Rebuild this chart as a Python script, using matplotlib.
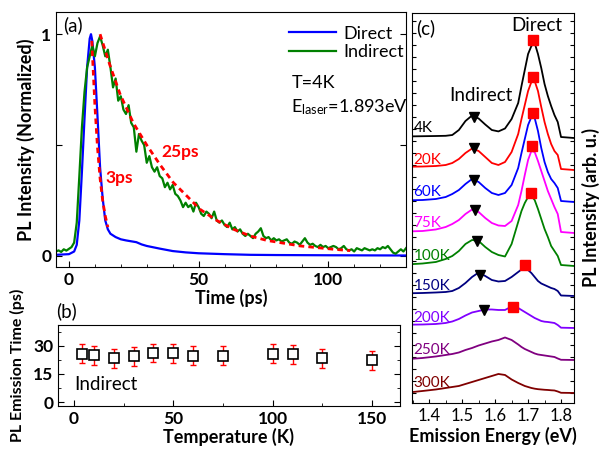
import matplotlib
matplotlib.use('Agg')
import matplotlib.pyplot as plt
from matplotlib.ticker import MultipleLocator
import numpy as np

plt.rcParams['font.family'] = ['Lato', 'DejaVu Sans']
plt.rcParams['mathtext.fontset'] = 'custom'
plt.rcParams['mathtext.rm'] = 'Lato'
plt.rcParams['mathtext.it'] = 'Lato:italic'

# ---------------- (a) time-resolved PL at 4K ----------------
# indirect (green) trace, sampled every 1 ps from -5 to 130 ps
time_ind = np.arange(-5, 131, 1)
pl_ind = [0.020, 0.025, 0.018, 0.030, 0.024, 0.032, 0.040, 0.060, 0.150, 0.360,
          0.580, 0.740, 0.850, 0.900, 0.950, 0.900, 0.960, 0.990, 0.950, 0.900,
          0.930, 0.850, 0.760, 0.800, 0.700, 0.720, 0.660, 0.640, 0.680, 0.600,
          0.580, 0.470, 0.550, 0.520, 0.500, 0.420, 0.450, 0.400, 0.380, 0.400,
          0.360, 0.350, 0.310, 0.330, 0.300, 0.320, 0.280, 0.270, 0.250, 0.220,
          0.240, 0.220, 0.230, 0.200, 0.240, 0.220, 0.190, 0.180, 0.200, 0.190,
          0.170, 0.200, 0.160, 0.150, 0.160, 0.140, 0.130, 0.150, 0.120, 0.130,
          0.110, 0.120, 0.100, 0.090, 0.100, 0.090, 0.080, 0.100, 0.110, 0.125,
          0.090, 0.080, 0.085, 0.070, 0.080, 0.070, 0.075, 0.065, 0.070, 0.075,
          0.060, 0.055, 0.065, 0.060, 0.050, 0.065, 0.080, 0.060, 0.050, 0.055,
          0.045, 0.040, 0.050, 0.040, 0.045, 0.035, 0.040, 0.045, 0.040, 0.030,
          0.035, 0.045, 0.030, 0.025, 0.030, 0.020, 0.035, 0.030, 0.025, 0.035,
          0.030, 0.025, 0.030, 0.025, 0.035, 0.030, 0.040, 0.035, 0.045, 0.030,
          0.015, 0.010, 0.020, 0.030, 0.020, 0.035]

# direct (blue) trace
time_dir = [-5, 0, 2, 3, 4, 5, 6, 7, 8, 8.5, 9, 10, 11, 12, 13, 14, 15, 16, 18, 20,
            22, 24, 26, 28, 30, 35, 40, 45, 50, 60, 70, 80, 100, 130]
pl_dir = [0.005, 0.008, 0.02, 0.05, 0.16, 0.38, 0.62, 0.85, 0.98, 1.0, 0.97, 0.85,
          0.63, 0.40, 0.26, 0.16, 0.12, 0.10, 0.085, 0.075, 0.07, 0.066, 0.062,
          0.052, 0.045, 0.033, 0.022, 0.016, 0.012, 0.008, 0.005, 0.004, 0.003, 0.002]

# fitted decays (red dashed)
fit3_t = [8.8, 10, 11, 12, 13, 14, 15]
fit3_y = [0.97, 0.68, 0.49, 0.35, 0.25, 0.18, 0.13]
fit25_t = [12, 15.8, 19.7, 24.8, 30, 35.2, 40.3, 45.5, 50.6, 57, 63.5, 69.9, 76.3,
           89.2, 102.1, 108.5]
fit25_y = [1.0, 0.86, 0.73, 0.60, 0.50, 0.41, 0.33, 0.27, 0.21, 0.16, 0.12, 0.09,
           0.07, 0.045, 0.03, 0.024]

# ---------------- (b) emission time vs temperature ----------------
temp_b = [4, 10, 20, 30, 40, 50, 60, 75, 100, 110, 125, 150]
tau_b = [25.7, 25.0, 23.4, 24.3, 26.1, 26.0, 24.6, 24.6, 25.7, 25.5, 23.4, 22.3]
tau_err = [5, 5, 5, 5, 5, 5, 5, 5, 5, 5, 5, 5]

# ---------------- (c) PL spectra ----------------
energy = [1.34, 1.38, 1.42, 1.45, 1.47, 1.49, 1.51, 1.53, 1.55, 1.57, 1.59, 1.61,
          1.63, 1.65, 1.67, 1.68, 1.69, 1.70, 1.71, 1.72, 1.73, 1.74, 1.75, 1.76,
          1.77, 1.78, 1.79, 1.80, 1.84]
spec_labels = ['4K', '20K', '60K', '75K', '100K', '150K', '200K', '250K', '300K']
spec_colors = ['black', 'red', 'blue', '#ff00ff', 'green', '#000080', '#8000ff',
               '#800080', '#800000']
spec_offsets = [255, 223, 191, 160, 127, 97, 65, 33, 0]
spectra = [
    [1.6, 1.8, 2.0, 2.2, 3.0, 8.0, 17.0, 22.5, 19.5, 13.5, 8.0, 6.6, 9.5, 19.0, 35.0,
     52.0, 68.0, 84.0, 92.0, 95.0, 84.0, 70.0, 54.0, 42.0, 32.0, 23.0, 16.0, 1.0, 0.0],
    [3.3, 3.5, 4.0, 5.0, 7.0, 11.0, 17.0, 21.5, 19.0, 13.0, 7.0, 5.0, 8.0, 18.0, 36.0,
     51.0, 65.0, 79.0, 88.0, 89.0, 79.0, 63.0, 48.0, 36.0, 26.0, 19.0, 15.0, 1.0, 0.0],
    [1.7, 2.0, 3.0, 5.0, 8.0, 12.0, 18.0, 23.0, 20.0, 14.0, 9.0, 7.0, 9.0, 17.0, 34.0,
     49.0, 63.0, 77.0, 85.0, 84.0, 71.0, 54.0, 40.0, 30.0, 23.0, 19.0, 14.0, 1.0, 0.0],
    [1.6, 2.0, 3.5, 6.0, 9.0, 13.0, 19.0, 23.5, 21.0, 15.0, 10.0, 7.5, 7.0, 12.0, 28.0,
     42.0, 58.0, 73.0, 82.0, 81.0, 72.0, 62.0, 52.0, 42.0, 34.0, 26.0, 19.0, 1.0, 0.0],
    [1.7, 2.5, 4.0, 7.0, 10.0, 15.0, 22.0, 26.0, 25.0, 19.0, 14.0, 11.0, 9.5, 22.0, 44.0,
     55.0, 63.0, 69.0, 70.0, 66.0, 57.0, 47.0, 37.0, 29.0, 20.0, 15.0, 10.0, 1.0, 0.0],
    [2.7, 3.0, 3.5, 4.0, 5.0, 8.0, 13.0, 19.0, 23.5, 20.0, 16.0, 14.5, 15.0, 19.0, 24.0,
     26.5, 27.5, 26.0, 23.0, 19.0, 15.0, 12.5, 11.0, 9.5, 8.0, 7.0, 5.0, 0.5, 0.0],
    [3.3, 3.5, 4.0, 5.0, 6.5, 9.0, 12.5, 15.5, 17.0, 18.5, 18.5, 18.0, 18.0, 21.5, 20.0,
     18.0, 16.0, 14.0, 12.0, 10.0, 8.5, 7.0, 6.3, 6.0, 5.5, 5.0, 3.0, 0.3, 0.0],
    [1.0, 2.0, 3.5, 5.0, 6.0, 7.5, 10.0, 12.0, 14.5, 16.5, 18.5, 20.0, 22.5, 20.0, 15.5,
     13.0, 11.0, 9.5, 8.0, 6.5, 5.5, 5.0, 4.5, 4.0, 3.5, 3.0, 1.5, 0.2, 0.0],
    [0.6, 2.0, 3.5, 5.0, 6.0, 7.0, 9.0, 11.0, 13.0, 15.0, 17.0, 19.0, 18.0, 13.5, 10.0,
     8.5, 7.0, 6.0, 5.0, 4.3, 3.8, 3.5, 3.2, 3.0, 2.7, 2.5, 1.5, 0.2, 0.0],
]
# peak markers for 4K..200K
ind_peak_E = [1.535, 1.535, 1.535, 1.54, 1.545, 1.555, 1.565]
ind_peak_h = [21, 21.7, 21.7, 23.3, 25, 21, 18.3]
dir_peak_E = [1.716, 1.715, 1.715, 1.712, 1.708, 1.69, 1.655]
dir_peak_h = [98, 93, 89, 87, 73, 31, 21]

fig = plt.figure(figsize=(6.06, 4.49), dpi=100)
ax_a = fig.add_axes([0.0924, 0.4053, 0.5776, 0.568])
ax_b = fig.add_axes([0.0957, 0.0958, 0.5643, 0.1804])
ax_c = fig.add_axes([0.680, 0.1025, 0.267, 0.8685])

bold = dict(fontsize=13, fontweight='bold')

# (a)
ax_a.plot(time_dir, pl_dir, color='blue', lw=1.6, label='Direct')
ax_a.plot(time_ind, pl_ind, color='green', lw=1.6, label='Indirect')
ax_a.plot(fit3_t, fit3_y, color='red', lw=2, ls=(0, (2, 1.5)))
ax_a.plot(fit25_t, fit25_y, color='red', lw=2, ls=(0, (2, 1.5)))
ax_a.set_xlim(-5, 130)
ax_a.set_ylim(-0.05, 1.1)
ax_a.set_yticks([0, 0.5, 1])
ax_a.set_yticklabels(['0', '', '1'])
ax_a.xaxis.set_major_locator(MultipleLocator(50))
ax_a.xaxis.set_minor_locator(MultipleLocator(10))
ax_a.set_xlabel('Time (ps)', labelpad=1, **bold)
ax_a.set_ylabel('PL Intensity (Normalized)', labelpad=4, **bold)
ax_a.text(0.02, 0.985, '(a)', transform=ax_a.transAxes, fontsize=13.5, va='top')
ax_a.text(19.5, 0.35, '3ps', color='red', fontsize=12.5, fontweight='bold', ha='center', va='center')
ax_a.text(43, 0.47, '25ps', color='red', fontsize=12.5, fontweight='bold', ha='center', va='center')
ax_a.legend(loc='upper left', bbox_to_anchor=(0.62, 1.01), frameon=False, fontsize=13,
            handlelength=2.6, handletextpad=0.4, labelspacing=0.15)
ax_a.text(0.674, 0.72, 'T=4K', transform=ax_a.transAxes, fontsize=13, va='center')
ax_a.text(0.672, 0.625, r'E$_{\mathrm{laser}}$=1.893eV', transform=ax_a.transAxes,
          fontsize=13, va='center')

# (b)
ax_b.errorbar(temp_b, tau_b, yerr=tau_err, fmt='none', ecolor='red', elinewidth=1,
              capsize=2.5, capthick=1)
ax_b.plot(temp_b, tau_b, 's', mfc='white', mec='black', mew=1.2, ms=7, ls='none')
ax_b.set_xlim(-8, 164)
ax_b.set_ylim(-2, 41)
ax_b.set_yticks([0, 15, 30])
ax_b.yaxis.set_minor_locator(MultipleLocator(7.5))
ax_b.xaxis.set_major_locator(MultipleLocator(50))
ax_b.xaxis.set_minor_locator(MultipleLocator(25))
ax_b.set_xlabel('Temperature (K)', labelpad=1, **bold)
ax_b.set_ylabel('PL Emission Time (ps)', labelpad=6, fontsize=11.5, fontweight='bold')
ax_b.text(0, 9.2, 'Indirect', fontsize=13.5, va='center', ha='left')
ax_b.text(-0.005, 1.06, '(b)', transform=ax_b.transAxes, fontsize=13.5, va='bottom')

for ax in (ax_a, ax_b):
    ax.tick_params(which='both', direction='in', right=True, top=False,
                   labelsize=12.5)
    ax.tick_params(which='major', length=4)
    ax.tick_params(which='minor', length=2)
    for lab in ax.get_xticklabels() + ax.get_yticklabels():
        lab.set_fontweight('bold')

# (c)
for lab, col, off, spec in zip(spec_labels, spec_colors, spec_offsets, spectra):
    ax_c.plot(energy, np.array(spec) + off, color=col, lw=1.3)
    ax_c.text(1.352, off + 3, lab, color=col, fontsize=11, va='bottom', ha='left')
for i in range(len(ind_peak_E)):
    ax_c.plot(ind_peak_E[i], ind_peak_h[i] + spec_offsets[i], 'v', color='black', ms=7)
    ax_c.plot(dir_peak_E[i], dir_peak_h[i] + spec_offsets[i], 's', color='red', ms=6.5)
ax_c.text(1.556, 298, 'Indirect', fontsize=13.5, ha='center', va='center')
ax_c.text(1.726, 368, 'Direct', fontsize=13.5, ha='center', va='center')
ax_c.text(0.025, 0.985, '(c)', transform=ax_c.transAxes, fontsize=13.5, va='top')
ax_c.set_xlim(1.348, 1.839)
ax_c.set_ylim(-10, 380)
ax_c.xaxis.set_major_locator(MultipleLocator(0.1))
ax_c.xaxis.set_minor_locator(MultipleLocator(0.05))
ax_c.yaxis.set_major_locator(MultipleLocator(12))
ax_c.set_yticklabels([])
ax_c.tick_params(which='both', direction='in', right=True, top=False, labelsize=12)
ax_c.tick_params(which='major', length=3)
ax_c.tick_params(which='minor', length=2)
ax_c.set_xlabel('Emission Energy (eV)', labelpad=2, **bold)
ax_c.yaxis.set_label_position('right')
ax_c.set_ylabel('PL Intensity (arb. u.)', labelpad=6, **bold)

fig.savefig('out.png', dpi=100)
